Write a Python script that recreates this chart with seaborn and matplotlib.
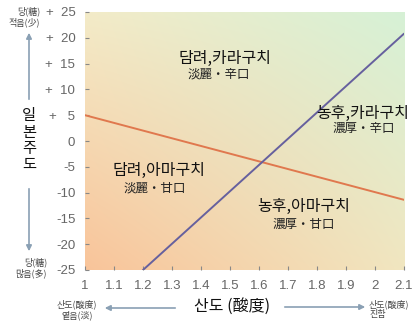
import numpy as np
import pandas as pd
import matplotlib
matplotlib.use("Agg")
import matplotlib.pyplot as plt
import seaborn as sns

# ---- data ----
acid_orange = [1.0, 2.1]
smv_orange = [5.0, -11.4]
acid_purple = [1.2, 2.1]
smv_purple = [-25.0, 20.8]

x_ticks = [1.0, 1.1, 1.2, 1.3, 1.4, 1.5, 1.6, 1.7, 1.8, 1.9, 2.0, 2.1]
x_tick_labels = ["1", "1.1", "1.2", "1.3", "1.4", "1.5", "1.6", "1.7", "1.8", "1.9", "2", "2.1"]
y_ticks = [25, 20, 15, 10, 5, 0, -5, -10, -15, -20, -25]
y_tick_labels = ["+  25", "+  20", "+  15", "+  10", "+   5", "0", "-5", "-10", "-15", "-20", "-25"]

regions_kr = ["담려,카라구치", "농후,카라구치", "담려,아마구치", "농후,아마구치"]
regions_cj = ["淡麗・辛口", "濃厚・辛口", "淡麗・甘口", "濃厚・甘口"]
region_x = [1.484, 1.958, 1.256, 1.754]
region_y = [16.0, 5.3, -5.7, -12.7]
sub_x = [1.46, 1.962, 1.242, 1.754]
sub_y = [13.0, 2.4, -9.2, -16.1]

sns.set_theme(style="white")
plt.rcParams['font.family'] = ['Noto Sans CJK KR', 'DejaVu Sans']

df = pd.DataFrame({
    "acid": acid_orange + acid_purple,
    "smv": smv_orange + smv_purple,
    "line": ["orange"] * len(acid_orange) + ["purple"] * len(acid_purple),
})

W, H = 419, 326
fig = plt.figure(figsize=(W / 100, H / 100), dpi=100)
ax = fig.add_axes([85 / W, 1 - 270 / H, (404 - 85) / W, (270 - 12) / H])

# background gradient
c_tl = np.array([0xf3, 0xeb, 0xc8]) / 255
c_tr = np.array([0xd6, 0xf1, 0xd6]) / 255
c_bl = np.array([0xf9, 0xc4, 0x9a]) / 255
c_br = np.array([0xf1, 0xe6, 0xc0]) / 255
n = 200
u = np.linspace(0, 1, n)[None, :, None]
v = np.linspace(0, 1, n)[:, None, None]  # 0 = top
img = (c_tl * (1 - u) * (1 - v) + c_tr * u * (1 - v) + c_bl * (1 - u) * v + c_br * u * v)
ax.imshow(img, extent=[1.0, 2.1, -25, 25], aspect="auto", origin="upper", zorder=0,
          interpolation="bilinear")

sns.lineplot(data=df, x="acid", y="smv", hue="line",
             palette={"orange": "#e0784e", "purple": "#66609e"},
             linewidth=1.4, legend=False, ax=ax, zorder=3)

ax.set_xlim(1.0, 2.1)
ax.set_ylim(-25, 25)
ax.set_xticks(x_ticks)
ax.set_xticklabels(x_tick_labels)
ax.set_yticks(y_ticks)
ax.set_yticklabels(y_tick_labels)
ax.tick_params(axis="both", direction="in", length=3, width=0.8, color="#888888",
               labelcolor="#666666", labelsize=9.5)
ax.tick_params(axis="x", pad=7)
ax.tick_params(axis="y", pad=7)
for lab in ax.get_xticklabels() + ax.get_yticklabels():
    lab.set_family(["Liberation Sans", "DejaVu Sans"])
ax.tick_params(left=True, bottom=True)
for s in ax.spines.values():
    s.set_visible(False)
ax.set_xlabel("")
ax.set_ylabel("")

for kr, xx, yy in zip(regions_kr, region_x, region_y):
    ax.text(xx, yy, kr, ha="center", va="center", fontsize=11.5, color="#111111", zorder=4)
for cj, xx, yy in zip(regions_cj, sub_x, sub_y):
    ax.text(xx, yy, cj, ha="center", va="center", fontsize=9, color="#222222", zorder=4)

def fx(px):
    return px / W

def fy(py):
    return 1 - py / H

arrow_kw = dict(arrowstyle="-|>", color="#8aa0b4", lw=1.2, mutation_scale=8)

# y axis label stacked
for ch, py in zip("일본주도", [116, 132, 148, 164]):
    fig.text(fx(29), fy(py), ch, ha="center", va="center", fontsize=11, color="#111111")
ax.annotate("", xy=(fx(29), fy(30)), xytext=(fx(29), fy(102)),
            xycoords="figure fraction", textcoords="figure fraction", arrowprops=arrow_kw)
ax.annotate("", xy=(fx(29), fy(254)), xytext=(fx(29), fy(186)),
            xycoords="figure fraction", textcoords="figure fraction", arrowprops=arrow_kw)
fig.text(fx(40), fy(17), "당(糖)\n적음(少)", ha="right", va="center", fontsize=6.5,
         color="#444444", linespacing=1.1)
fig.text(fx(47), fy(268), "당(糖)\n많음(多)", ha="right", va="center", fontsize=6.5,
         color="#444444", linespacing=1.1)

# x axis label and arrows
fig.text(fx(232), fy(306), "산도 (酸度)", ha="center", va="center", fontsize=11.5, color="#111111")
ax.annotate("", xy=(fx(102), fy(308)), xytext=(fx(178), fy(308)),
            xycoords="figure fraction", textcoords="figure fraction", arrowprops=arrow_kw)
ax.annotate("", xy=(fx(368), fy(307)), xytext=(fx(282), fy(307)),
            xycoords="figure fraction", textcoords="figure fraction", arrowprops=arrow_kw)
fig.text(fx(77), fy(310), "산도(酸度)\n옅음(淡)", ha="center", va="center", fontsize=6.5,
         color="#444444", linespacing=1.1)
fig.text(fx(369), fy(309), "산도(酸度)\n진함", ha="left", va="center", fontsize=6.5,
         color="#444444", linespacing=1.1)

fig.savefig("out.png", dpi=100)
